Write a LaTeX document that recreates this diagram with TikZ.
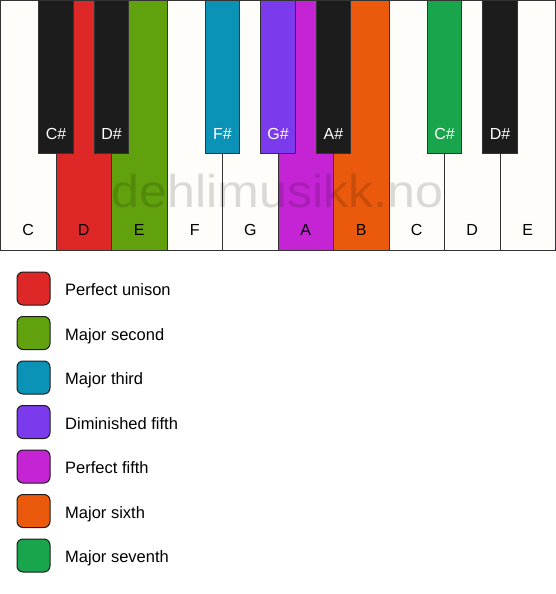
\documentclass[tikz,border=0pt]{standalone}
\usepackage{fontspec}
\setmainfont{Liberation Sans}
\definecolor{keywhite}{RGB}{255,253,250}
\definecolor{keyblack}{RGB}{28,28,28}
\definecolor{keyedge}{RGB}{51,51,51}
\definecolor{cRed}{RGB}{222,40,40}
\definecolor{cGreen}{RGB}{98,161,14}
\definecolor{cBlue}{RGB}{10,147,182}
\definecolor{cPurple}{RGB}{123,58,235}
\definecolor{cMagenta}{RGB}{196,36,212}
\definecolor{cOrange}{RGB}{235,90,12}
\definecolor{cGreenB}{RGB}{24,165,75}
\begin{document}
\begin{tikzpicture}[x=1pt,y=-1pt,
  wkey/.style={draw=keyedge, line width=1pt, fill=keywhite, minimum width=55.5pt, minimum height=249.5pt, anchor=north west, inner sep=0pt, outer sep=0pt},
  bkey/.style={draw=keyedge, line width=1pt, fill=keyblack, minimum width=34.5pt, minimum height=152.5pt, anchor=north, inner sep=0pt, outer sep=0pt},
  wlab/.style={font=\fontsize{16}{19}\selectfont, text=black, inner sep=0pt, anchor=base},
  blab/.style={font=\fontsize{16}{19}\selectfont, text=white, inner sep=0pt, anchor=base},
  swatch/.style={draw=keyblack, line width=1pt, rounded corners=6pt, minimum size=33pt, inner sep=0pt},
  legtxt/.style={font=\fontsize{16.5}{20}\selectfont, text=black, anchor=base west, inner sep=0pt},
  wmark/.style={font=\fontsize{46}{50}\selectfont, text=black, text opacity=0.14, inner sep=0pt, anchor=base, transform shape, xscale=1.09}
]
\useasboundingbox (0,0) rectangle (556,594);
% white keys
\foreach \i/\n/\c in {1/C/keywhite,2/D/cRed,3/E/cGreen,4/F/keywhite,5/G/keywhite,6/A/cMagenta,7/B/cOrange,8/C/keywhite,9/D/keywhite,10/E/keywhite}{
  \node[wkey, fill=\c] (kw\i) at ({0.5+(\i-1)*55.5},0.5) {};
  \node[wlab] (lw\i) at ([yshift=14.3pt]kw\i.south) {\n};
}
% black keys
\foreach \i/\k/\n/\c in {1/1/C\#/keyblack,2/2/D\#/keyblack,3/4/F\#/cBlue,4/5/G\#/cPurple,5/6/A\#/keyblack,6/8/C\#/cGreenB,7/9/D\#/keyblack}{
  \node[bkey, fill=\c] (kb\i) at ({0.5+\k*55.5},0.5) {};
  \node[blab] (lb\i) at ([yshift=13.7pt]kb\i.south) {\n};
}
% watermark
\node[wmark] (wm) at (277.5,207.7) {dehlimusikk.no};
% legend
\foreach \i/\c/\t in {1/cRed/Perfect unison,2/cGreen/Major second,3/cBlue/Major third,4/cPurple/Diminished fifth,5/cMagenta/Perfect fifth,6/cOrange/Major sixth,7/cGreenB/Major seventh}{
  \node[swatch, fill=\c] (s\i) at (33.5,{288.5+(\i-1)*44.5}) {};
  \node[legtxt] (t\i) at ([xshift=14.5pt, yshift=-7pt]s\i.east) {\t};
}
\end{tikzpicture}
\end{document}
